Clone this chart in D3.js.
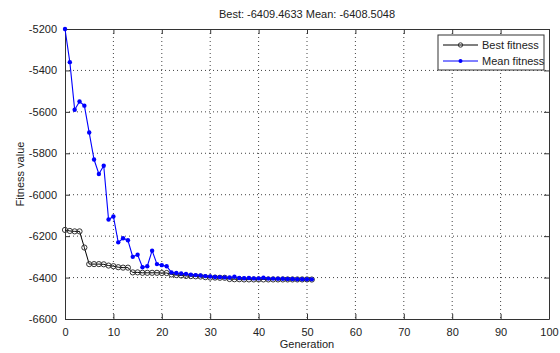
<!DOCTYPE html>
<html>
<head>
<meta charset="utf-8">
<title>GA fitness</title>
<script src="https://cdn.jsdelivr.net/npm/d3@7"></script>
<style>
  body { margin: 0; background: #fff; }
  text { font-family: "Liberation Sans", Arial, sans-serif; }
</style>
</head>
<body>
<script>
    var generations = d3.range(0, 52);
    var bestFitness = [-6170, -6175, -6177, -6177, -6255, -6335, -6335, -6335, -6336, -6342,
        -6345, -6350, -6352, -6352, -6375, -6375, -6377, -6377, -6377, -6377,
        -6378, -6378, -6385, -6388, -6390, -6392, -6393, -6394, -6395, -6398,
        -6400, -6400, -6401, -6401, -6407, -6408, -6408, -6409, -6409, -6409,
        -6409, -6409, -6409, -6409, -6409, -6409, -6409, -6409, -6409, -6409,
        -6409, -6409.4633];
    var meanFitness = [-5200, -5360, -5590, -5550, -5570, -5700, -5830, -5900, -5860, -6120,
        -6105, -6230, -6210, -6220, -6300, -6290, -6350, -6345, -6270, -6335,
        -6340, -6345, -6375, -6378, -6380, -6382, -6386, -6388, -6390, -6393,
        -6395, -6397, -6398, -6399, -6400, -6396, -6402, -6403, -6402, -6404,
        -6404, -6401, -6405, -6405, -6406, -6406, -6407, -6407, -6408, -6408,
        -6408, -6408.5048];
    var xTicks = [0, 10, 20, 30, 40, 50, 60, 70, 80, 90, 100];
    var yTicks = [-5200, -5400, -5600, -5800, -6000, -6200, -6400, -6600];
    var seriesNames = ["Best fitness", "Mean fitness"];

    var width = 560;
    var height = 353;
    var plot = {left: 65, right: 549, top: 29, bottom: 319};

    var svg = d3.select("body")
        .append("svg")
        .attr("width", width)
        .attr("height", height);

    var x = d3.scaleLinear().domain([0, 100]).range([plot.left, plot.right]);
    var y = d3.scaleLinear().domain([-6600, -5200]).range([plot.bottom, plot.top]);

    // grid
    svg.append("g").selectAll("line").data(xTicks.slice(1, -1)).enter().append("line")
        .attr("x1", function(d){ return x(d); }).attr("x2", function(d){ return x(d); })
        .attr("y1", plot.top).attr("y2", plot.bottom)
        .attr("stroke", "#444").attr("stroke-width", 1).attr("stroke-dasharray", "1,3");
    svg.append("g").selectAll("line").data(yTicks.slice(1, -1)).enter().append("line")
        .attr("y1", function(d){ return y(d); }).attr("y2", function(d){ return y(d); })
        .attr("x1", plot.left).attr("x2", plot.right)
        .attr("stroke", "#444").attr("stroke-width", 1).attr("stroke-dasharray", "1,3");

    // axes (ticks inward, plain hyphen minus)
    var plain = function(d){ return String(d); };
    var xAxis = d3.axisBottom(x).tickValues(xTicks).tickSizeInner(-5).tickSizeOuter(0).tickPadding(9).tickFormat(plain);
    var yAxis = d3.axisLeft(y).tickValues(yTicks).tickSizeInner(-5).tickSizeOuter(0).tickPadding(8).tickFormat(plain);
    var xTop = d3.axisTop(x).tickValues(xTicks).tickSizeInner(-5).tickSizeOuter(0).tickFormat("");
    var yRight = d3.axisRight(y).tickValues(yTicks).tickSizeInner(-5).tickSizeOuter(0).tickFormat("");

    function styleAxis(g) {
        g.selectAll("path").attr("stroke", "#333");
        g.selectAll("line").attr("stroke", "#333");
        g.selectAll("text").attr("fill", "#222").style("font-size", "11px");
    }
    svg.append("g").attr("transform", "translate(0," + plot.bottom + ")").call(xAxis).call(styleAxis);
    svg.append("g").attr("transform", "translate(" + plot.left + ",0)").call(yAxis).call(styleAxis);
    svg.append("g").attr("transform", "translate(0," + plot.top + ")").call(xTop).call(styleAxis);
    svg.append("g").attr("transform", "translate(" + plot.right + ",0)").call(yRight).call(styleAxis);

    // lines
    var line = d3.line()
        .x(function(d){ return x(d[0]); })
        .y(function(d){ return y(d[1]); });

    var bestData = generations.map(function(g, i){ return [g, bestFitness[i]]; });
    var meanData = generations.map(function(g, i){ return [g, meanFitness[i]]; });

    svg.append("path").datum(bestData).attr("d", line)
        .attr("fill", "none").attr("stroke", "#000").attr("stroke-width", 1);
    svg.append("g").selectAll("circle").data(bestData).enter().append("circle")
        .attr("cx", function(d){ return x(d[0]); })
        .attr("cy", function(d){ return y(d[1]); })
        .attr("r", 2.6)
        .attr("fill", "none").attr("stroke", "#333").attr("stroke-width", 1);

    svg.append("path").datum(meanData).attr("d", line)
        .attr("fill", "none").attr("stroke", "#0000ff").attr("stroke-width", 1.1);
    svg.append("g").selectAll("circle").data(meanData).enter().append("circle")
        .attr("cx", function(d){ return x(d[0]); })
        .attr("cy", function(d){ return y(d[1]); })
        .attr("r", 2.2)
        .attr("fill", "#0000ff");

    // title and labels
    svg.append("text").attr("x", 307).attr("y", 18).attr("text-anchor", "middle")
        .style("font-size", "11px").attr("fill", "#222")
        .text("Best: " + bestFitness[bestFitness.length - 1].toFixed(4) +
              " Mean: " + meanFitness[meanFitness.length - 1].toFixed(4));
    svg.append("text").attr("x", 307).attr("y", 348).attr("text-anchor", "middle")
        .style("font-size", "11px").attr("fill", "#222").text("Generation");
    svg.append("text").attr("transform", "translate(24,174) rotate(-90)").attr("text-anchor", "middle")
        .style("font-size", "11px").attr("fill", "#222").text("Fitness value");

    // legend
    var legend = svg.append("g");
    legend.append("rect").attr("x", 438).attr("y", 35).attr("width", 106).attr("height", 35)
        .attr("fill", "#fff").attr("stroke", "#333").attr("stroke-width", 1);
    var colors = ["#000", "#0000ff"];
    seriesNames.forEach(function(name, i){
        var ly = 45 + i * 16;
        legend.append("line").attr("x1", 443).attr("x2", 478).attr("y1", ly).attr("y2", ly)
            .attr("stroke", colors[i]).attr("stroke-width", 1);
        if (i === 0) {
            legend.append("circle").attr("cx", 460.5).attr("cy", ly).attr("r", 2.2)
                .attr("fill", "none").attr("stroke", "#333");
        } else {
            legend.append("circle").attr("cx", 460.5).attr("cy", ly).attr("r", 2)
                .attr("fill", "#0000ff");
        }
        legend.append("text").attr("x", 482).attr("y", ly + 4)
            .style("font-size", "11px").attr("fill", "#222").text(name);
    });
</script>
</body>
</html>
